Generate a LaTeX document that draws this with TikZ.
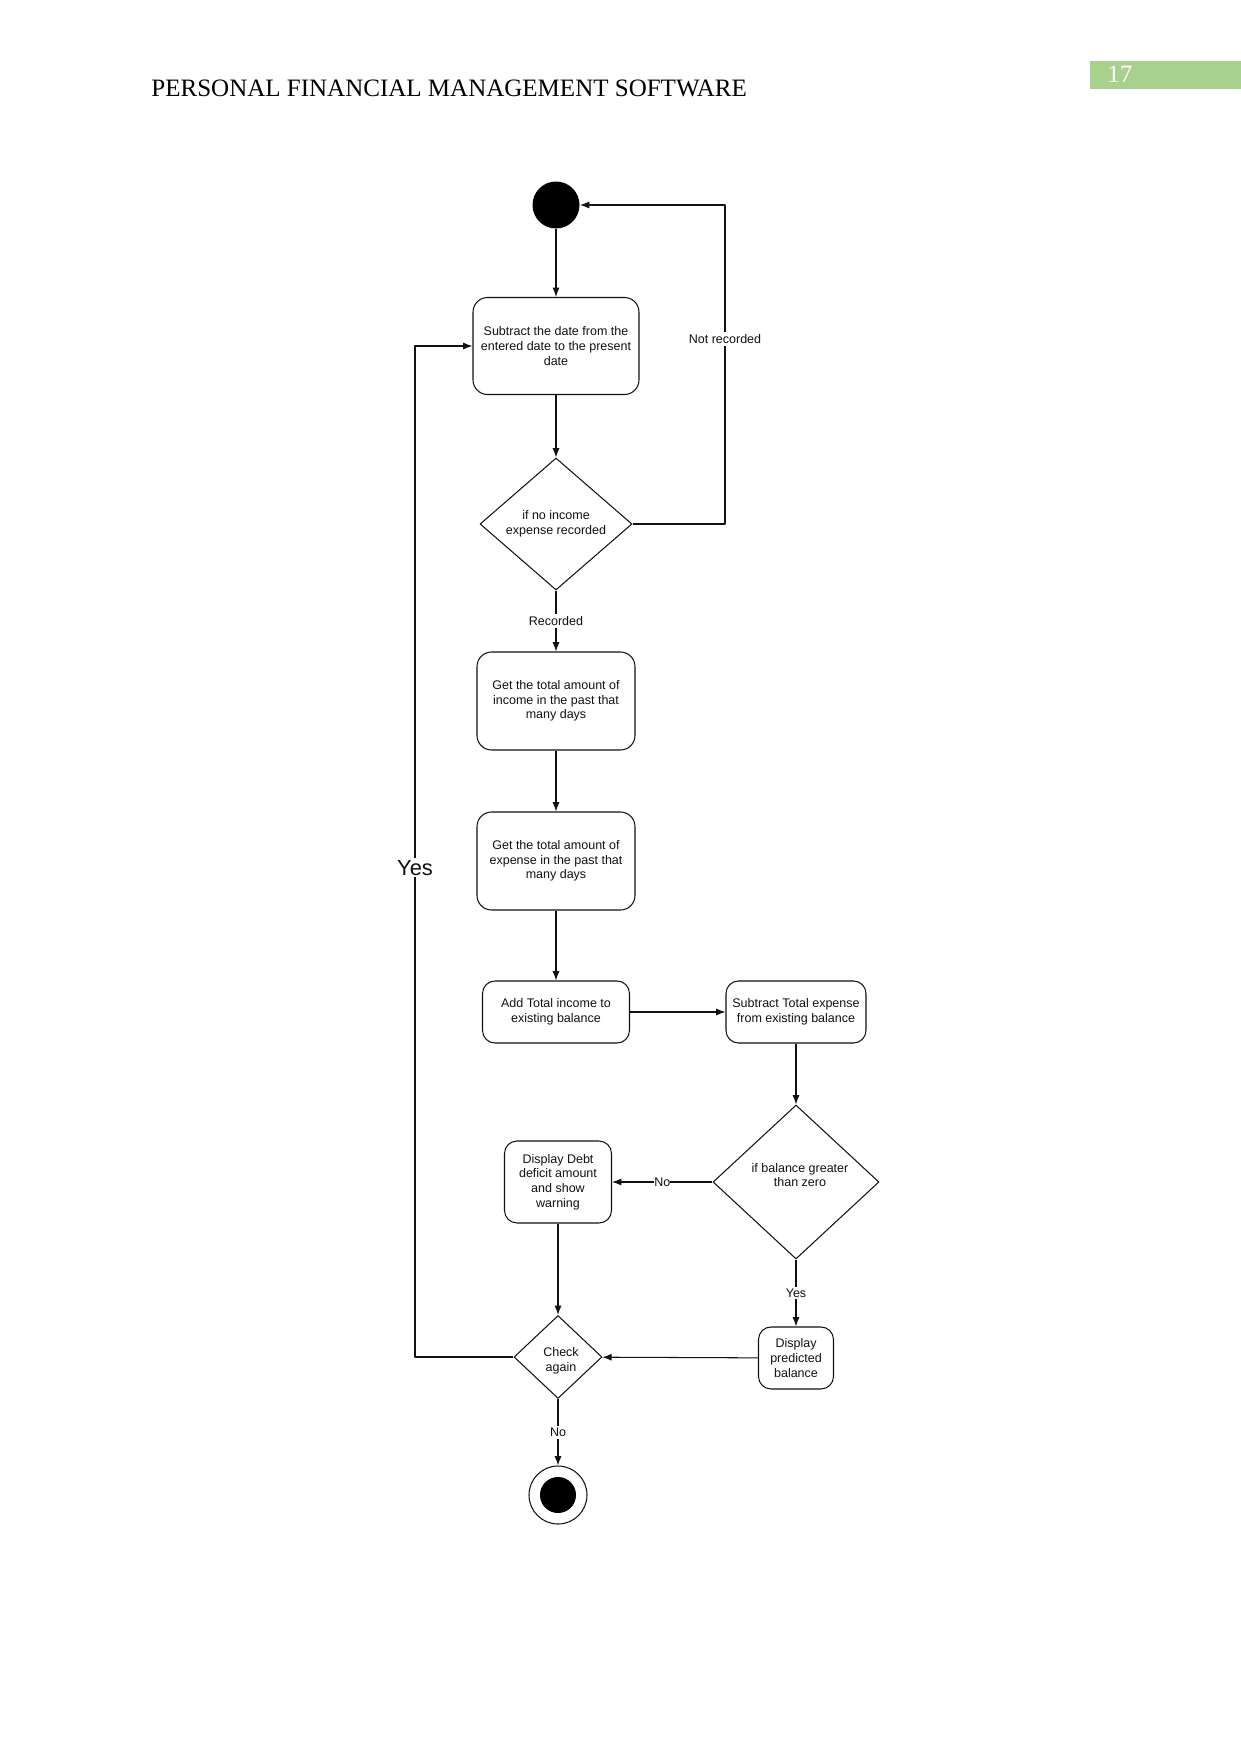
\documentclass[tikz,border=0pt]{standalone}
\usepackage{fontspec}
\setmainfont{Liberation Serif}
\newfontfamily\chartfont{Liberation Sans}
\usetikzlibrary{arrows.meta,shapes.geometric}
\definecolor{ink}{HTML}{111111}
\definecolor{pagetab}{HTML}{A9D18E}

\begin{document}
\begin{tikzpicture}[
  x=0.4797pt, y=-0.4797pt,
  line join=round,
  every node/.style={font=\chartfont\fontsize{6}{7}\selectfont, text=ink},
  % action boxes and decisions
  act/.style={draw=ink, line width=0.5pt, rounded corners=7pt, align=center, inner sep=1pt},
  cond/.style={draw=ink, line width=0.5pt, diamond, aspect=1, inner sep=0pt, align=center},
  startdot/.style={circle, fill=black, inner sep=0pt, minimum size=47*\px},
  stopring/.style={circle, draw=ink, line width=0.5pt, fill=white, inner sep=0pt, minimum size=58*\px},
  stopdot/.style={circle, fill=black, inner sep=0pt, minimum size=36*\px},
  flow/.style={draw=ink, line width=0.5pt, -{Latex[length=4.5pt,width=3.4pt]}},
  guard/.style={fill=white, inner sep=1pt},
]
\def\px{0.4797pt}
\useasboundingbox (0,0) rectangle (1241,1754);

% --- page header
\node[anchor=base west, inner sep=0pt, font=\rmfamily\fontsize{12}{14}\selectfont, text=black] (title) at (151,97)
  {PERSONAL FINANCIAL MANAGEMENT SOFTWARE};
\fill[pagetab] (1090,61) rectangle (1241,89);
\node[anchor=base west, font=\rmfamily\fontsize{12}{14}\selectfont, text=white, inner sep=0pt] (pageno) at (1107,83) {17};

% --- main column
\node[startdot] (begin) at (556,205) {};
\node[act, minimum width=166*\px, minimum height=97*\px] (subdate) at (556,346)
  {Subtract the date from the\\entered date to the present\\date};
\node[cond, minimum width=152*\px, minimum height=132*\px] (norec) at (556,524)
  {if no income\\expense recorded};
\node[act, minimum width=158*\px, minimum height=98*\px] (getinc) at (556,701)
  {Get the total amount of\\income in the past that\\many days};
\node[act, minimum width=158*\px, minimum height=98*\px] (getexp) at (556,861)
  {Get the total amount of\\expense in the past that\\many days};
\node[act, minimum width=147*\px, minimum height=62*\px, rounded corners=6pt] (addinc) at (556,1012)
  {Add Total income to\\existing balance};
\node[act, minimum width=140*\px, minimum height=62*\px, rounded corners=6pt] (subexp) at (796,1012)
  {Subtract Total expense\\from existing balance};

% --- balance check (diamond texts sit a little off centre)
\node[cond, minimum width=166*\px, minimum height=154*\px] (balance) at (796,1182) {};
\node[align=center] (balancetext) at (800,1175) {if balance greater\\than zero};
\node[act, minimum width=107*\px, minimum height=82*\px, rounded corners=6pt] (debt) at (558,1182)
  {Display Debt\\deficit amount\\and show\\warning};
\node[act, minimum width=75*\px, minimum height=62*\px, rounded corners=6pt] (predict) at (796,1358)
  {Display\\predicted\\balance};
\node[cond, minimum width=88*\px, minimum height=83*\px] (again) at (558,1357) {};
\node[align=center] (againtext) at (561,1361) {Check\\again};
\node[stopring] (finish) at (558,1495) {};
\node[stopdot] (finishdot) at (finish) {};

% --- connectors
\coordinate (nrcol) at (725,205);
\coordinate (yescol) at (415,0);
\draw[flow] (begin) -- (subdate);
\draw[flow] (subdate) -- (norec);
\draw[flow] (norec) -- node[guard] {Recorded} (getinc);
\draw[flow] (norec.east) -| (nrcol) node[guard, pos=0.79] {Not recorded} -- (begin.east);
\draw[flow] (getinc) -- (getexp);
\draw[flow] (getexp) -- (addinc);
\draw[flow] (addinc) -- (subexp);
\draw[flow] (subexp) -- (balance);
\draw[flow] (balance) -- node[guard, inner sep=0pt] {No} (debt);
\draw[flow] (balance) -- node[guard] {Yes} (predict);
\draw[flow] (predict) -- (again);
\draw[flow] (debt) -- (again);
\draw[flow] (again) -- node[guard] {No} (finish);
\draw[flow] (again.west) -| (yescol |- subdate.west)
  node[guard, pos=0.742, font=\chartfont\fontsize{10.5}{12}\selectfont] {Yes} -- (subdate.west);
\end{tikzpicture}
\end{document}
